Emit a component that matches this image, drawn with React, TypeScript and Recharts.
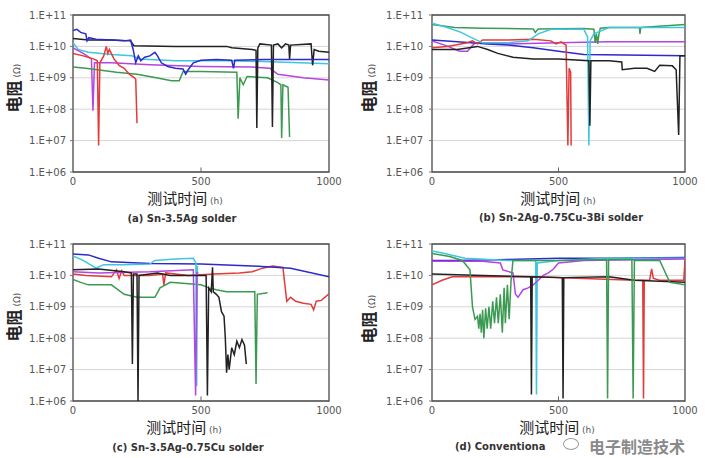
import React from 'react';
import { LineChart, Line, XAxis, YAxis, CartesianGrid, ReferenceArea, ReferenceLine } from 'recharts';

type P = [number, number][];

const TFONT = '"DejaVu Sans", Verdana, sans-serif';
const CJK = '"Noto Sans CJK SC", "DejaVu Sans", sans-serif';

const yTicks = [1e6, 1e7, 1e8, 1e9, 1e10, 1e11];
const xTicks = [0, 500, 1000];

const C = {
  black: '#222222',
  blue: '#2b2bcc',
  cyan: '#3fc6df',
  purple: '#b544e0',
  red: '#e33b3b',
  green: '#3b9a52',
};

// ---- Panel (a) Sn-3.5Ag ----
const aCyan: P = [[0,1.3e10],[20,8e9],[60,6.5e9],[150,5.5e9],[230,5e9],[260,4e9],[400,3.5e9],[600,3.5e9],[800,3.2e9],[1000,2.8e9]];
const aPurple: P = [[0,9e9],[40,6e9],[72,4e9],[78,9e7],[84,3e9],[150,3e9],[300,2.6e9],[500,2.3e9],[700,2.2e9],[770,2e9],[800,1.3e9],[900,1e9],[1000,8.5e8]];
const aRed: P = [[0,6e9],[40,5e9],[80,4e9],[95,3.5e9],[100,7e6],[105,3e9],[120,5e9],[130,1e10],[136,6e9],[142,8e9],[160,4e9],[180,2.5e9],[200,2e9],[220,1.3e9],[240,1e9],[245,9e8],[250,3.6e7]];
const aGreen: P = [[0,2.2e9],[50,2e9],[170,1.5e9],[250,1.3e9],[325,1e9],[385,8e8],[415,8e8],[430,1.6e9],[500,1.6e9],[640,1.5e9],[645,5e7],[652,1e9],[665,6e8],[680,1.1e9],[760,1e9],[800,7e8],[812,6e8],[815,1.2e7],[820,6e8],[840,5e8],[846,1.3e7]];
const aBlack: P = [[0,1.8e10],[60,1.6e10],[150,1.6e10],[225,1.5e10],[238,1.05e10],[400,1e10],[600,1e10],[620,9e9],[700,8e9],[715,7.5e9],[718,2.5e7],[722,9e9],[730,1.2e10],[775,1.1e10],[779,2.7e7],[783,1.1e10],[800,1.2e10],[815,9e9],[830,1.2e10],[843,1.1e10],[846,4e9],[850,1.1e10],[930,1.2e10],[936,2.5e9],[942,8e9],[960,7e9],[1000,6.5e9]];
const aBlue: P = [[0,3.2e10],[15,3.5e10],[30,2.8e10],[50,2.5e10],[55,1.5e10],[62,1.9e10],[90,1.7e10],[150,1.6e10],[200,1.5e10],[225,1.6e10],[235,8e9],[245,3e9],[255,5e9],[265,3.5e9],[280,4.5e9],[300,5e9],[320,6.5e9],[330,5e9],[345,3e9],[370,2.3e9],[400,2e9],[430,1.9e9],[440,1.3e9],[450,1.8e9],[470,3e9],[500,3.6e9],[560,3.8e9],[620,3.6e9],[627,2e9],[632,3.6e9],[750,3.8e9],[1000,3.8e9]];

// ---- Panel (b) Sn-2Ag-0.75Cu-3Bi ----
const bGreen: P = [[0,5e10],[90,4e10],[200,3.8e10],[400,3.6e10],[408,2.8e10],[420,3.6e10],[600,3.7e10],[640,3.5e10],[645,1.3e10],[650,2.5e10],[655,1.2e10],[660,2.5e10],[665,3.8e10],[700,4e10],[820,4e10],[822,2.5e10],[825,4e10],[1000,5e10]];
const bCyan: P = [[0,5.5e10],[60,4e10],[115,2.8e10],[150,2e10],[200,1.3e10],[300,1.3e10],[380,1.5e10],[420,2.5e10],[470,3.5e10],[600,3.5e10],[615,2e10],[620,7e6],[625,1.5e10],[640,2.5e10],[700,4e10],[1000,4e10]];
const bPurple: P = [[0,1.5e10],[50,1.1e10],[110,7e9],[140,7e9],[170,1.3e10],[300,1.2e10],[500,1.3e10],[700,1.4e10],[1000,1.4e10]];
const bRed: P = [[0,9e9],[60,1e10],[140,1.3e10],[160,1.5e10],[180,1.2e10],[200,1.6e10],[300,1.6e10],[400,1.7e10],[470,1.5e10],[490,1.2e10],[510,1.4e10],[530,1.1e10],[537,7e6],[542,2e9],[548,1.5e9],[550,7e6]];
const bBlue: P = [[0,1.6e10],[100,1.4e10],[220,1.2e10],[300,1.1e10],[400,9e9],[500,7e9],[600,5.5e9],[1000,5e9]];
const bBlack: P = [[0,8e9],[100,8e9],[180,1e10],[220,8e9],[260,6e9],[320,4.5e9],[400,4e9],[500,4e9],[620,3.5e9],[624,3e7],[628,3.5e9],[700,3.5e9],[750,3.2e9],[752,1.8e9],[800,2e9],[850,2e9],[880,1.6e9],[900,2.5e9],[950,2.4e9],[965,1.8e9],[975,1.5e7],[980,5e9],[1000,5e9]];

// ---- Panel (c) Sn-3.5Ag-0.75Cu ----
const cBlue: P = [[0,4.8e10],[60,4.5e10],[100,3.5e10],[150,2.7e10],[300,2.4e10],[500,2.3e10],[700,2e10],[850,1.7e10],[1000,9e9]];
const cCyan: P = [[0,4.2e10],[40,3e10],[90,1.7e10],[120,2.2e10],[200,2.2e10],[300,2.3e10],[320,3e10],[400,3.3e10],[470,3.5e10],[480,2.5e10],[483,3e6],[486,2e10]];
const cPurple: P = [[0,1.3e10],[100,1.2e10],[300,1.3e10],[470,1.5e10],[479,1.5e6],[484,1.2e10],[490,1.2e10]];
const cRed: P = [[0,1.1e10],[50,1e10],[150,9e9],[170,1.5e10],[180,8e9],[190,1.4e10],[200,1e10],[300,1e10],[350,1.1e10],[355,5e9],[362,1.2e10],[450,1e10],[550,1.1e10],[650,1.2e10],[700,1.3e10],[740,1.7e10],[780,2e10],[820,1.8e10],[835,1.5e9],[850,2e9],[870,1.5e9],[900,1.3e9],[930,1.2e9],[940,8e8],[950,1.5e9],[970,1.6e9],[1000,2.6e9]];
const cBlack: P = [[0,1.5e10],[100,1.6e10],[200,1.3e10],[228,1.2e10],[232,1.5e7],[236,1.1e10],[250,1.1e10],[254,1e6],[258,1e10],[330,1.2e10],[380,1e10],[420,1e10],[490,1e10],[520,1e10],[525,1.5e6],[530,4e9],[540,3e9],[545,1.8e10],[548,3e9],[560,2.5e9],[570,2e9],[580,7e8],[590,5e8],[595,1e8],[600,8e6],[605,3e7],[610,1e7],[620,5e7],[630,3e7],[640,8e7],[650,5e7],[660,9e7],[670,6e7],[677,1.5e7]];
const cGreen: P = [[0,7.5e9],[30,6e9],[60,5e9],[150,5e9],[200,2.5e9],[250,2e9],[320,2e9],[340,4e9],[380,6e9],[500,5e9],[530,4e9],[560,3.5e9],[600,3e9],[700,3e9],[710,3e9],[715,3.5e6],[720,2.5e9],[760,2.8e9]];

// ---- Panel (d) Conventional ----
const dCyan: P = [[0,6e10],[50,5e10],[130,3.5e10],[300,3e10],[410,3e10],[413,1.6e6],[416,2.5e10],[500,3e10],[700,3.5e10],[1000,3.5e10]];
const dBlue: P = [[0,3e10],[100,3e10],[300,3.2e10],[500,3.5e10],[700,3.5e10],[1000,3.7e10]];
const dPurple: P = [[0,2.8e10],[200,2.8e10],[270,2.5e10],[280,1.5e10],[320,1.2e10],[330,2.5e9],[340,2e9],[360,3.5e9],[380,4e9],[400,5e9],[420,7e9],[440,1e10],[460,1.2e10],[480,1.6e10],[500,2.5e10],[600,3e10],[1000,3.3e10]];
const dGreen: P = [[0,5e10],[70,4e10],[120,3e10],[150,1.5e10],[160,1e9],[170,4e8],[180,5e8],[185,2e8],[190,6e8],[195,1.5e8],[200,8e8],[205,1e8],[212,9e8],[218,2e8],[225,1e9],[232,2e8],[240,1.5e9],[247,3e8],[255,2e9],[262,3e8],[270,2.5e9],[278,1.5e8],[285,4e9],[290,3e8],[298,5e9],[305,4e8],[312,6e9],[320,3e10],[500,3e10],[690,3.2e10],[694,1.2e6],[698,3.2e10],[790,3.2e10],[795,1.2e6],[800,3e10],[900,3e10],[940,6e9],[1000,5e9]];
const dBlack: P = [[0,1.1e10],[200,1e10],[390,9e9],[393,1.6e6],[396,9e9],[515,8.5e9],[518,1.2e6],[521,8.5e9],[700,9e9],[800,7e9],[1000,6e9]];
const dRed: P = [[0,5e9],[40,7e9],[80,9e9],[200,9e9],[400,9e9],[600,8e9],[800,7e9],[833,7e9],[836,1.2e6],[839,7e9],[860,7e9],[868,1.6e10],[875,8e9],[900,7e9],[995,7e9],[1000,3e10]];

const fmt = (v: number) => `1.E+${String(Math.round(Math.log10(v))).padStart(2, '0')}`;
const toData = (p: P) => p.map(([x, y]) => ({ x, y }));

type S = { d: P; c: string };

function Panel({ left, top, width, height, yw, tm, series }: { left: number; top: number; width: number; height: number; yw: number; tm: number; series: S[] }) {
  return (
    <div style={{ position: 'absolute', left, top }}>
      <LineChart width={width} height={height} margin={{ top: 15, right: 16, left: 0, bottom: 0 }}>
        <CartesianGrid horizontal vertical={false} stroke="#d6d6d6" strokeWidth={1} />
        <XAxis
          type="number"
          dataKey="x"
          domain={[0, 1000]}
          ticks={xTicks}
          allowDataOverflow
          tickLine={false}
          axisLine={false}
          tickSize={0}
          tickMargin={6}
          height={height - 15 - 157}
          tick={{ fontSize: 10, fill: '#555', fontFamily: TFONT }}
        />
        <YAxis
          type="number"
          scale="log"
          domain={[1e6, 1e11]}
          ticks={yTicks}
          allowDataOverflow
          tickFormatter={fmt}
          width={yw}
          tickSize={3}
          tickMargin={tm}
          tickLine={{ stroke: '#777' }}
          axisLine={false}
          tick={{ fontSize: 10, fill: '#555', fontFamily: TFONT }}
        />
        {series.map((s, i) => (
          <Line
            key={i}
            data={toData(s.d)}
            dataKey="y"
            type="linear"
            stroke={s.c}
            strokeWidth={1.5}
            dot={false}
            activeDot={false}
            isAnimationActive={false}
          />
        ))}
        <ReferenceArea x1={0} x2={1000} y1={1e6} y2={1e11} fill="none" fillOpacity={0} stroke="#4a4a4a" strokeWidth={1.3} ifOverflow="visible" />
        <ReferenceLine segment={[{ x: 500, y: 1e6 }, { x: 500, y: 1.4e6 }]} stroke="#666" ifOverflow="visible" />
      </LineChart>
    </div>
  );
}

function YLabel({ x, y }: { x: number; y: number }) {
  return (
    <div style={{ position: 'absolute', left: x, top: y, transform: 'translate(-50%,-50%) rotate(-90deg)', whiteSpace: 'nowrap', color: '#222', lineHeight: '16px' }}>
      <span style={{ fontFamily: CJK, fontSize: 16, fontWeight: 700 }}>电阻</span>
      <span style={{ fontFamily: TFONT, fontSize: 9, color: '#555' }}> (Ω)</span>
    </div>
  );
}

function XLabel({ x, y }: { x: number; y: number }) {
  return (
    <div style={{ position: 'absolute', left: x, top: y, transform: 'translate(-50%,-50%)', whiteSpace: 'nowrap', color: '#222', lineHeight: '15px' }}>
      <span style={{ fontFamily: CJK, fontSize: 15 }}>测试时间</span>
      <span style={{ fontFamily: TFONT, fontSize: 9, color: '#555' }}> (h)</span>
    </div>
  );
}

function Caption({ x, y, text }: { x: number; y: number; text: string }) {
  return (
    <div style={{ position: 'absolute', left: x, top: y, transform: 'translate(-50%,-50%)', whiteSpace: 'nowrap', color: '#333', fontFamily: TFONT, fontSize: 10, fontWeight: 700, lineHeight: '12px' }}>
      {text}
    </div>
  );
}

export default function App() {
  return (
    <div style={{ position: 'fixed', left: 0, top: 0, width: 711, height: 458, background: '#fff', overflow: 'hidden' }}>
      <Panel left={0} top={0} width={345} height={190} yw={73} tm={4} series={[
        { d: aCyan, c: C.cyan }, { d: aPurple, c: C.purple }, { d: aGreen, c: C.green }, { d: aRed, c: C.red }, { d: aBlack, c: C.black }, { d: aBlue, c: C.blue },
      ]} />
      <Panel left={355} top={0} width={346} height={190} yw={77} tm={6} series={[
        { d: bPurple, c: C.purple }, { d: bBlue, c: C.blue }, { d: bRed, c: C.red }, { d: bGreen, c: C.green }, { d: bCyan, c: C.cyan }, { d: bBlack, c: C.black },
      ]} />
      <Panel left={0} top={229} width={345} height={190} yw={73} tm={4} series={[
        { d: cGreen, c: C.green }, { d: cRed, c: C.red }, { d: cBlue, c: C.blue }, { d: cCyan, c: C.cyan }, { d: cPurple, c: C.purple }, { d: cBlack, c: C.black },
      ]} />
      <Panel left={355} top={229} width={346} height={189} yw={77} tm={6} series={[
        { d: dBlue, c: C.blue }, { d: dCyan, c: C.cyan }, { d: dPurple, c: C.purple }, { d: dRed, c: C.red }, { d: dBlack, c: C.black }, { d: dGreen, c: C.green },
      ]} />

      <YLabel x={15} y={88} />
      <YLabel x={370} y={88} />
      <YLabel x={15} y={317} />
      <YLabel x={370} y={319} />

      <XLabel x={185} y={199} />
      <XLabel x={558} y={199} />
      <XLabel x={184} y={428} />
      <XLabel x={557} y={428} />

      <Caption x={182} y={219} text="(a) Sn-3.5Ag solder" />
      <Caption x={561} y={218} text="(b) Sn-2Ag-0.75Cu-3Bi solder" />
      <Caption x={188} y={448} text="(c) Sn-3.5Ag-0.75Cu solder" />
      <div style={{ position: 'absolute', left: 455, top: 447, transform: 'translateY(-50%)', whiteSpace: 'nowrap', color: '#333', fontFamily: TFONT, fontSize: 10, fontWeight: 700, lineHeight: '12px' }}>
        (d) Conventiona
      </div>
      <div style={{ position: 'absolute', left: 563, top: 444, transform: 'translateY(-50%)', width: 16, height: 12, borderRadius: '50%', border: '1.5px solid #999', boxSizing: 'border-box' }} />
      <div style={{ position: 'absolute', left: 589, top: 446, transform: 'translateY(-50%)', whiteSpace: 'nowrap', color: '#8a8a8a', fontFamily: CJK, fontSize: 16, fontWeight: 700, lineHeight: '16px', textShadow: '0 0 2px #fff' }}>
        电子制造技术
      </div>
    </div>
  );
}
